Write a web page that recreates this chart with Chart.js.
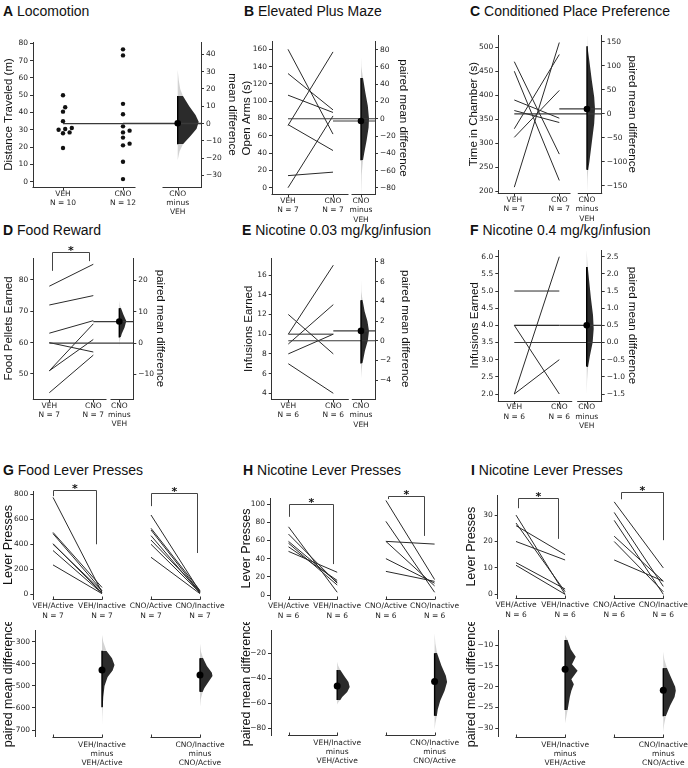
<!DOCTYPE html>
<html>
<head>
<meta charset="utf-8">
<script src="https://cdn.jsdelivr.net/npm/chart.js@4.4.1/dist/chart.umd.min.js"></script>
<style>
  html, body { margin:0; padding:0; background:#fff; }
  body { width:688px; height:768px; position:relative; overflow:hidden; }
  canvas { position:absolute; }
  .pt { position:absolute; font-family:'Liberation Sans', Arial, sans-serif; font-size:14px; line-height:16px; color:#111; white-space:nowrap; }
  .pt b { font-weight:bold; }
</style>
</head>
<body>
<div class="pt" style="left:3px;top:3px"><b>A</b> Locomotion</div>
<div class="pt" style="left:244px;top:3px"><b>B</b> Elevated Plus Maze</div>
<div class="pt" style="left:470px;top:3px"><b>C</b> Conditioned Place Preference</div>
<div class="pt" style="left:3px;top:222px"><b>D</b> Food Reward</div>
<div class="pt" style="left:242px;top:222px"><b>E</b> Nicotine 0.03 mg/kg/infusion</div>
<div class="pt" style="left:470px;top:222px"><b>F</b> Nicotine 0.4 mg/kg/infusion</div>
<div class="pt" style="left:3px;top:462px"><b>G</b> Food Lever Presses</div>
<div class="pt" style="left:243px;top:462px"><b>H</b> Nicotine Lever Presses</div>
<div class="pt" style="left:471px;top:462px"><b>I</b> Nicotine Lever Presses</div>
<script>
// ======================= DATA =======================
const gaGroups = ['VEH', 'CNO'];
const leverGroups = ['VEH/Active', 'VEH/Inactive', 'CNO/Active', 'CNO/Inactive'];

// A Locomotion (unpaired)
const locoVEH = [50, 43, 40.5, 35, 31, 30.5, 30, 28.5, 28, 19.5];
const locoCNO = [76.5, 73, 45, 39, 32, 29.5, 28.5, 25.5, 22, 21, 11.5, 1.5];
const locoCI = [-12, 16];
const locoBoot = [[31,0],[25,0.05],[20,0.12],[16,0.25],[10,0.55],[5,0.85],[1,1],[-3,0.9],[-7,0.62],[-12,0.25],[-16,0.09],[-21,0]];

// B Elevated Plus Maze (paired)
const epmVEH = [160, 132, 107, 73, 72, 14, 0];
const epmCNO = [62, 90, 87, 43, 157, 18, 83];
const epmCI = [-48, 47];
const epmBoot = [[72,0],[60,0.08],[47,0.25],[30,0.55],[15,0.85],[0,1],[-10,0.95],[-25,0.7],[-40,0.4],[-48,0.25],[-65,0.08],[-90,0]];

// C Conditioned Place Preference (paired)
const cppVEH = [470, 450, 390, 368, 330, 312, 208];
const cppCNO = [277, 222, 352, 343, 485, 410, 510];
const cppCI = [-117, 141];
const cppBoot = [[165,0],[141,0.1],[110,0.3],[70,0.6],[35,0.9],[10,1],[-20,0.9],[-60,0.6],[-100,0.3],[-117,0.15],[-140,0.05],[-165,0]];

// D Food Reward (paired)
const foodVEH = [78, 72, 63, 60, 51, 51, 44];
const foodCNO = [85, 75, 67, 57, 66, 61, 56];
const foodCI = [1.8, 11.1];
const foodBoot = [[13.5,0],[12,0.1],[11.1,0.25],[9,0.6],[7,1],[5,0.75],[3,0.35],[1.8,0.2],[0.5,0.06],[-1,0]];
const foodBrackets = [[0.05, 0.91, 89, 82.9, 86]];

// E Nicotine 0.03 (paired)
const nicLoVEH = [10, 12, 9, 8, 7, 10];
const nicLoCNO = [17, 8, 13, 10, 4, 10];
const nicLoCI = [-2.3, 4.1];
const nicLoBoot = [[6.2,0],[5,0.08],[4.1,0.2],[3,0.45],[2,0.8],[1,1],[0,0.85],[-1,0.5],[-2.3,0.18],[-3,0.07],[-3.8,0]];

// F Nicotine 0.4 (paired)
const nicHiVEH = [5, 4, 4, 4, 2, 2];
const nicHiCNO = [5, 4, 4, 2, 6, 3];
const nicHiCI = [-0.7, 2.2];
const nicHiBoot = [[2.7,0],[2.4,0.08],[2.2,0.15],[1.8,0.35],[1.3,0.6],[0.8,0.9],[0.4,1],[0,0.85],[-0.4,0.45],[-0.7,0.2],[-1.1,0.06],[-1.5,0]];

// G Food lever presses
const gVehAct = [775, 495, 485, 405, 400, 350, 235];
const gVehInact = [15, 55, 30, 10, 25, 8, 5];
const gCnoAct = [634, 528, 514, 469, 434, 400, 296];
const gCnoInact = [20, 30, 15, 10, 25, 12, 5];
const gVehCI = [-597, -341];
const gCnoCI = [-526, -375];
const gVehBoot = [[-270,0],[-300,0.1],[-341,0.35],[-375,0.8],[-405,1],[-430,0.85],[-460,0.45],[-500,0.2],[-550,0.1],[-597,0.06],[-640,0.02],[-677,0]];
const gCnoBoot = [[-309,0],[-345,0.08],[-375,0.25],[-410,0.55],[-440,0.95],[-455,1],[-480,0.7],[-510,0.35],[-526,0.22],[-560,0.06],[-594,0]];
const gBrackets = [[0, 0.87, 830, 785, 400], [2.01, 2.93, 808, 705, 330]];

// H Nicotine lever presses
const hVehAct = [75, 67, 59, 57, 53, 48];
const hVehInact = [3, 13, 14, 11, 16, 25];
const hCnoAct = [104, 81, 59, 59, 40, 26];
const hCnoInact = [17, 3, 56, 10, 13, 15];
const hVehCI = [-57.3, -33.3];
const hCnoCI = [-70, -20];
const hVehBoot = [[-26.7,0],[-30,0.08],[-33.3,0.25],[-38,0.55],[-43,0.9],[-47,1],[-51,0.8],[-55,0.4],[-57.3,0.25],[-59,0.1],[-61,0]];
const hCnoBoot = [[-4,0],[-12,0.06],[-20,0.2],[-30,0.55],[-38,0.9],[-43,1],[-50,0.8],[-58,0.45],[-65,0.25],[-70,0.18],[-76,0.06],[-81,0]];
const hBrackets = [[0, 0.92, 100, 86, 34], [2.05, 2.78, 109, 105.5, 65]];

// I Nicotine lever presses
const iVehAct = [30, 27, 26, 20, 12, 11];
const iVehInact = [0, 1, 15, 13, 2, 0];
const iCnoAct = [35, 31, 28, 22, 20, 13];
const iCnoInact = [10, 3, 0, 5, 1, 5];
const iVehCI = [-25.6, -8.8];
const iCnoCI = [-27.1, -15.6];
const iVehBoot = [[-7.6,0],[-8.8,0.2],[-11,0.45],[-12.8,0.85],[-14.6,0.55],[-16.2,1],[-18.2,0.5],[-19.4,0.7],[-21,0.5],[-22.4,0.38],[-25.6,0.2],[-28.8,0]];
const iCnoBoot = [[-11.6,0],[-13.5,0.08],[-15.6,0.3],[-18,0.65],[-20,0.95],[-21,1],[-22.5,0.9],[-24.5,0.55],[-27.1,0.2],[-29,0.07],[-30.9,0]];
const iBrackets = [[0.05, 0.86, 36.3, 32.6, 21], [2.14, 3.0, 38.8, 36, 20.5]];

// ======================= HELPERS =======================
Chart.defaults.font.family = "'DejaVu Sans', 'Liberation Sans', sans-serif";
Chart.defaults.font.size = 7.5;
Chart.defaults.color = '#222';
Chart.defaults.animation = false;

const INK = '#2a2a2a', SPINE = '#333333', DARK = '#2b2b2b', PALE = '#d3d3d3';
const TITLE_FONT = "'Liberation Sans', Arial, sans-serif";

const mean = a => a.reduce((s, v) => s + v, 0) / a.length;
const steps = (a, b, s) => { const r = []; for (let i = 0; a + i * s <= b + 1e-9; i++) r.push(+(a + i * s).toFixed(6)); return r; };
const fmt = (v, d) => (v < -1e-9 ? '\u2212' : '') + Math.abs(v).toFixed(d);

function makeCanvas(L, T, R, B, left, right, top, bottom) {
  const cl = Math.floor(left), ct = Math.floor(top);
  const cw = Math.ceil(right) - cl, ch = Math.ceil(bottom) - ct;
  const c = document.createElement('canvas');
  c.width = cw; c.height = ch;
  Object.assign(c.style, {left: cl + 'px', top: ct + 'px', width: cw + 'px', height: ch + 'px'});
  document.body.appendChild(c);
  return {c, cl, ct, cw, ch, lw: L - cl, rw: cl + cw - R, tp: T - ct, bh: ct + ch - B};
}

function yAxis(pos, min, max, ticks, dec, title, pad, width, fs) {
  return {
    type: 'linear', position: pos, min, max,
    afterBuildTicks: s => { s.ticks = ticks.map(v => ({value: v})); },
    afterFit: s => { s.width = width; },
    grid: {display: true, drawOnChartArea: false, drawTicks: true, tickLength: 3, color: SPINE, tickColor: SPINE, lineWidth: 1},
    border: {display: true, color: SPINE, width: 1},
    ticks: {autoSkip: false, padding: 2, color: '#222', font: {size: 7.5}, callback: v => fmt(v, dec)},
    title: {display: true, text: title, color: '#111', font: {family: TITLE_FONT, size: fs, lineHeight: 1.2}, padding: {top: Math.max(0, pad), bottom: 0}}
  };
}

function xAxis(min, max, tickVals, labels, height, pad, lh) {
  return {
    type: 'linear', position: 'bottom', min, max,
    afterBuildTicks: s => { s.ticks = tickVals.map(v => ({value: v})); },
    afterFit: s => { s.height = height; },
    grid: {display: false, drawTicks: false},
    border: {display: false},
    ticks: {autoSkip: false, maxRotation: 0, minRotation: 0, padding: pad, color: '#222', font: {size: 7.5, lineHeight: lh}, callback: (v, i) => labels[i]}
  };
}

function baseOptions(padTop, padRight, scales, decorOpts) {
  return {
    responsive: false, maintainAspectRatio: false, devicePixelRatio: 1, animation: false, events: [],
    layout: {padding: {top: padTop, right: padRight, left: 0, bottom: 0}},
    plugins: {legend: {display: false}, tooltip: {enabled: false}, decor: decorOpts},
    scales
  };
}

const seg = (pts, yAxisID, color, width) => ({data: pts, yAxisID, borderColor: color, borderWidth: width, pointRadius: 0, pointHoverRadius: 0, fill: false});

function violinPts(x0, boot, w) {
  const pts = boot.map(([v, d]) => ({x: x0 + d * w, y: v}));
  return [{x: x0, y: boot[0][0]}, ...pts, {x: x0, y: boot[boot.length - 1][0]}];
}
function violinFill(yId, ci) {
  return (ctx) => {
    const ch = ctx.chart, a = ch.chartArea, s = ch.scales[yId];
    if (!a || !s) return DARK;
    const h = a.bottom - a.top;
    const cl = v => Math.min(1, Math.max(0, v));
    const p1 = cl((s.getPixelForValue(ci[1]) - a.top) / h), p2 = cl((s.getPixelForValue(ci[0]) - a.top) / h);
    const g = ch.ctx.createLinearGradient(0, a.top, 0, a.bottom);
    g.addColorStop(0, PALE); g.addColorStop(p1, PALE); g.addColorStop(p1, DARK);
    g.addColorStop(p2, DARK); g.addColorStop(p2, PALE); g.addColorStop(1, PALE);
    return g;
  };
}
const violinDs = (x0, boot, w, yId, ci) => ({data: violinPts(x0, boot, w), yAxisID: yId, fill: 'shape', backgroundColor: violinFill(yId, ci), borderColor: 'rgba(0,0,0,0)', borderWidth: 0, pointRadius: 0, pointHoverRadius: 0});
const dotDs = (x, y, yId, r) => ({data: [{x, y}], yAxisID: yId, showLine: false, pointRadius: r, pointHoverRadius: r, pointBackgroundColor: '#000', pointBorderWidth: 0});

function swarmX(vals, center, r, kx, ky) {
  const order = vals.map((v, i) => i).sort((a, b) => vals[a] - vals[b]);
  const placed = [], out = [];
  const dmin = 2 * r + 0.4;
  order.forEach(i => {
    const yp = vals[i] * ky;
    let off = 0;
    for (let n = 0; n < 60; n++) {
      const c = n === 0 ? 0 : (n % 2 ? 1 : -1) * Math.ceil(n / 2) * r;
      if (placed.every(p => Math.hypot(p.x - c, p.y - yp) >= dmin)) { off = c; break; }
    }
    placed.push({x: off, y: yp});
    out[i] = center + off / kx;
  });
  return out;
}

const decor = {
  id: 'decor',
  afterDraw(chart, args, opts) {
    const {ctx, chartArea: a, scales} = chart;
    const xs = scales.x, ys = scales.y;
    ctx.save();
    ctx.strokeStyle = SPINE; ctx.lineWidth = 1;
    const yb = Math.round(a.bottom) + 0.5;
    (opts.spines || []).forEach(([p, q]) => {
      ctx.beginPath(); ctx.moveTo(xs.getPixelForValue(p) - 0.5, yb); ctx.lineTo(xs.getPixelForValue(q) + 0.5, yb); ctx.stroke();
    });
    (opts.marks || []).forEach(v => {
      const x = Math.round(xs.getPixelForValue(v)) + 0.5;
      ctx.beginPath(); ctx.moveTo(x, yb); ctx.lineTo(x, yb + opts.markLen); ctx.stroke();
    });
    ctx.strokeStyle = '#444';
    (opts.brackets || []).forEach(([x0, x1, top, e0, e1]) => {
      const px0 = Math.round(xs.getPixelForValue(x0)) + 0.5, px1 = Math.round(xs.getPixelForValue(x1)) + 0.5;
      const pt = Math.round(ys.getPixelForValue(top)) + 0.5;
      ctx.beginPath(); ctx.moveTo(px0, ys.getPixelForValue(e0)); ctx.lineTo(px0, pt); ctx.lineTo(px1, pt); ctx.lineTo(px1, ys.getPixelForValue(e1)); ctx.stroke();
      ctx.fillStyle = '#111'; ctx.font = "bold 11px 'DejaVu Sans'"; ctx.textAlign = 'center'; ctx.textBaseline = 'alphabetic';
      ctx.fillText('*', (px0 + px1) / 2, pt + 1.5);
    });
    ctx.restore();
  }
};

// ======================= GARDNER-ALTMAN PANELS =======================
function gardnerAltman(o) {
  const [L, T, R, B] = o.area;
  const k = o.px.cno - o.px.veh, u = p => (p - o.px.veh) / k;
  const cv = makeCanvas(L, T, R, B, o.tl - 8, o.tr + 8, T - (o.tp || 9), B + 34);
  const xmin = u(L), xmax = u(R), xEff = u(o.px.eff);
  const mC = mean(o.ctrl), mT = mean(o.test), dm = mT - mC;
  const ds = [];
  ds.push(dotDs(xEff, dm, 'y2', 3.3));
  ds.push(seg([{x: xEff, y: o.ci[0]}, {x: xEff, y: o.ci[1]}], 'y2', '#000', 1.4));
  ds.push(seg([{x: 0, y: mC}, {x: xmax, y: mC}], 'y', '#3a3a3a', 1.2));
  ds.push(seg([{x: 1, y: mT}, {x: xmax, y: mT}], 'y', '#3a3a3a', 1.2));
  if (o.paired) {
    o.ctrl.forEach((v, i) => ds.push(seg([{x: 0, y: v}, {x: 1, y: o.test[i]}], 'y', INK, 1)));
  } else {
    const ky = (B - T) / (o.y[1] - o.y[0]);
    [[o.ctrl, 0], [o.test, 1]].forEach(([vals, c]) => {
      const xs = swarmX(vals, c, 2.2, k, ky);
      ds.push({data: vals.map((v, i) => ({x: xs[i], y: v})), yAxisID: 'y', showLine: false, pointRadius: 2.2, pointHoverRadius: 2.2, pointBackgroundColor: '#111', pointBorderWidth: 0});
    });
  }
  ds.push(violinDs(xEff, o.boot, o.vw / k, 'y2', o.ci));
  const fs = 11.5;
  const xLabels = [[gaGroups[0], 'N = ' + o.ctrl.length], [gaGroups[1], 'N = ' + o.test.length], [gaGroups[1], 'minus', gaGroups[0]]];
  const scales = {
    x: xAxis(xmin, xmax, [0, 1, xEff], xLabels, cv.bh, 2, 1.25),
    y: yAxis('left', o.y[0], o.y[1], o.yTicks, o.dec, o.yTitle, (o.tl - cv.cl) - fs * 0.6, cv.lw, fs),
    y2: yAxis('right', o.y[0] - mC, o.y[1] - mC, o.y2Ticks, o.dec, o.y2Title, (cv.cl + cv.cw - o.tr) - fs * 0.6, cv.rw, fs)
  };
  new Chart(cv.c, {type: 'line', data: {datasets: ds},
    options: baseOptions(cv.tp, 0, scales, {spines: [[xmin, u(o.px.rawEnd)], [u(o.px.conStart), xmax]], marks: [0, 1, xEff], markLen: 3, brackets: o.brackets || []}),
    plugins: [decor]});
}

// ======================= CUMMING PANELS =======================
function cumming(o) {
  const u = p => (p - o.pos0) / o.step;
  const fs = 12.5;
  { // top: paired slopes
    const [L, T, R, B] = o.top.area;
    const cv = makeCanvas(L, T, R, B, o.tl - 8, R + 6, T - 24, B + 27);
    const ds = [];
    o.pairs.forEach(([a, b], g) => a.forEach((v, i) => ds.push(seg([{x: 2 * g, y: v}, {x: 2 * g + 1, y: b[i]}], 'y', INK, 1))));
    const labels = [];
    o.pairs.forEach(([a, b], g) => { labels.push([leverGroups[2 * g], 'N = ' + a.length]); labels.push([leverGroups[2 * g + 1], 'N = ' + b.length]); });
    const scales = {
      x: xAxis(u(L), u(R), [0, 1, 2, 3], labels, cv.bh, 2, 1.3),
      y: yAxis('left', o.top.y[0], o.top.y[1], o.top.ticks, 0, 'Lever Presses', (o.tl - cv.cl) - fs * 0.6, cv.lw, fs)
    };
    new Chart(cv.c, {type: 'line', data: {datasets: ds},
      options: baseOptions(cv.tp, cv.rw, scales, {spines: [[0, 1], [2, 3]], marks: [0, 1, 2, 3], markLen: -3, brackets: o.brackets}),
      plugins: [decor]});
  }
  { // bottom: paired mean differences
    const [L, T, R, B] = o.bot.area;
    const cv = makeCanvas(L, T, R, B, o.tl - 8, R + 6, T - 8, B + 34);
    const dots = [], cis = [], vios = [];
    o.pairs.forEach(([a, b], g) => {
      const diffs = b.map((v, i) => v - a[i]);
      const x = 2 * g + 1;
      dots.push(dotDs(x, mean(diffs), 'y', 3.5));
      cis.push(seg([{x, y: o.ci[g][0]}, {x, y: o.ci[g][1]}], 'y', '#000', 1.4));
      vios.push(violinDs(x, o.boot[g], 12.5 / o.step, 'y', o.ci[g]));
    });
    const labels = o.pairs.map((p, g) => [leverGroups[2 * g + 1], 'minus', leverGroups[2 * g]]);
    const scales = {
      x: xAxis(u(L), u(R), [1, 3], labels, cv.bh, 3.5, 1.2),
      y: yAxis('left', o.bot.y[0], o.bot.y[1], o.bot.ticks, 0, 'paired mean difference', (o.tl - cv.cl) - fs * 0.6, cv.lw, fs)
    };
    new Chart(cv.c, {type: 'line', data: {datasets: [...dots, ...cis, ...vios]},
      options: baseOptions(cv.tp, cv.rw, scales, {spines: [[0, 1], [2, 3]], marks: [0, 1, 2, 3], markLen: -3}),
      plugins: [decor]});
  }
}

// ======================= BUILD =======================
gardnerAltman({area: [33, 42, 201, 187], px: {veh: 63, cno: 123, rawEnd: 135, conStart: 163, eff: 177.7},
  y: [-3.06, 80.75], yTicks: steps(0, 80, 10), y2Ticks: steps(-30, 40, 10), dec: 0,
  ctrl: locoVEH, test: locoCNO, paired: false, ci: locoCI, boot: locoBoot, vw: 21,
  yTitle: 'Distance Traveled (m)', y2Title: 'mean difference', tl: 9, tr: 232});

gardnerAltman({area: [272, 41.7, 375, 194.3], px: {veh: 288, cno: 333, rawEnd: 348, conStart: 352, eff: 361},
  y: [-7.6, 168.8], yTicks: steps(0, 160, 20), y2Ticks: steps(-80, 80, 20), dec: 0,
  ctrl: epmVEH, test: epmCNO, paired: true, ci: epmCI, boot: epmBoot, vw: 8,
  yTitle: 'Open Arms (s)', y2Title: 'paired mean difference', tl: 247, tr: 403});

gardnerAltman({area: [498.3, 35, 601.7, 193.3], px: {veh: 514.3, cno: 559.3, rawEnd: 570, conStart: 578.3, eff: 587},
  y: [195.2, 525.7], yTicks: steps(200, 500, 50), y2Ticks: steps(-150, 150, 50), dec: 0,
  ctrl: cppVEH, test: cppCNO, paired: true, ci: cppCI, boot: cppBoot, vw: 8,
  yTitle: 'Time in Chamber (s)', y2Title: 'paired mean difference', tl: 474, tr: 632});

gardnerAltman({area: [33.3, 258, 133.3, 399], px: {veh: 49.3, cno: 93.3, rawEnd: 106, conStart: 111, eff: 119.3},
  y: [42, 87], yTicks: steps(50, 80, 10), y2Ticks: steps(-10, 20, 10), dec: 0, tp: 22,
  ctrl: foodVEH, test: foodCNO, paired: true, ci: foodCI, boot: foodBoot, vw: 7, brackets: foodBrackets,
  yTitle: 'Food Pellets Earned', y2Title: 'paired mean difference', tl: 9, tr: 160});

gardnerAltman({area: [271.7, 258.3, 375, 399.3], px: {veh: 288.3, cno: 333.3, rawEnd: 348.3, conStart: 352.3, eff: 361},
  y: [3.39, 17.7], yTicks: steps(4, 16, 2), y2Ticks: steps(-4, 8, 2), dec: 0,
  ctrl: nicLoVEH, test: nicLoCNO, paired: true, ci: nicLoCI, boot: nicLoBoot, vw: 8,
  yTitle: 'Infusions Earned', y2Title: 'paired mean difference', tl: 249, tr: 405});

gardnerAltman({area: [498.3, 250, 601.7, 400.7], px: {veh: 514.3, cno: 559.3, rawEnd: 571.7, conStart: 577.7, eff: 586.7},
  y: [1.805, 6.195], yTicks: steps(2, 6, 0.5), y2Ticks: steps(-1.5, 2.5, 0.5), dec: 1,
  ctrl: nicHiVEH, test: nicHiCNO, paired: true, ci: nicHiCI, boot: nicHiBoot, vw: 7,
  yTitle: 'Infusions Earned', y2Title: 'paired mean difference', tl: 475, tr: 632});

cumming({top: {area: [33.3, 491, 228, 599], y: [-37.6, 826], ticks: steps(0, 800, 200)},
  bot: {area: [35, 630, 228, 736.7], y: [-730, -247], ticks: steps(-700, -300, 100)},
  pos0: 53, step: 49, tl: 9,
  pairs: [[gVehAct, gVehInact], [gCnoAct, gCnoInact]], ci: [gVehCI, gCnoCI], boot: [gVehBoot, gCnoBoot], brackets: gBrackets});

cumming({top: {area: [270, 498, 461, 599], y: [-4.4, 106.7], ticks: steps(0, 100, 20)},
  bot: {area: [271, 630, 461, 735], y: [-85.4, -1.4], ticks: steps(-80, -20, 20)},
  pos0: 288.5, step: 48.7, tl: 247,
  pairs: [[hVehAct, hVehInact], [hCnoAct, hCnoInact]], ci: [hVehCI, hCnoCI], boot: [hVehBoot, hCnoBoot], brackets: hBrackets});

cumming({top: {area: [497.7, 495, 688, 598.3], y: [-1.5, 37.6], ticks: steps(0, 30, 10)},
  bot: {area: [498.3, 630, 688, 736.7], y: [-32, -6.4], ticks: steps(-30, -10, 5)},
  pos0: 516, step: 49.1, tl: 472,
  pairs: [[iVehAct, iVehInact], [iCnoAct, iCnoInact]], ci: [iVehCI, iCnoCI], boot: [iVehBoot, iCnoBoot], brackets: iBrackets});
</script>
</body>
</html>
